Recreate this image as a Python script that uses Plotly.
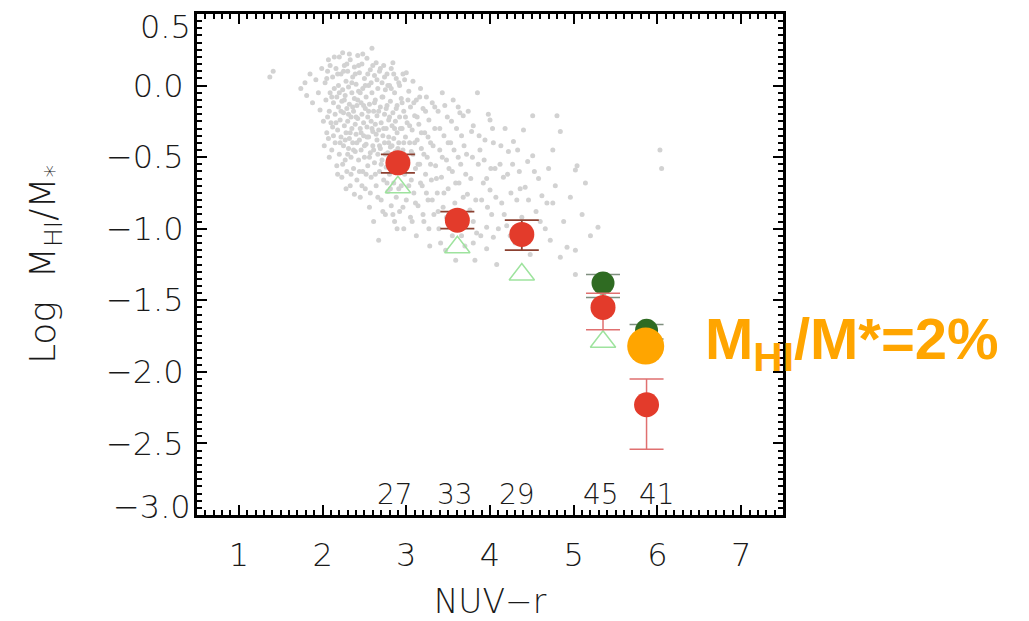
import plotly.graph_objects as go

# ---------------- data ----------------
cloud = [
    (1.37,0.06),(1.41,0.10),(1.74,-0.02),(1.79,0.02),(1.81,-0.07),(1.85,0.08),(1.88,-0.12),(1.92,0.04),
    (1.95,-0.05),(1.97,-0.17),(1.99,0.12),(2.01,-0.25),
    (2.03,0.02),(2.04,-0.10),(2.05,-0.33),(2.06,0.10),(2.07,0.18),(2.07,-0.37),(2.08,-0.18),(2.09,-0.05),
    (2.10,-0.26),(2.11,-0.45),(2.12,-0.29),(2.12,0.06),(2.13,-0.12),(2.14,-0.02),(2.15,-0.20),(2.15,-0.40),
    (2.16,0.12),(2.17,-0.56),(2.17,-0.08),(2.18,-0.31),(2.19,0.00),(2.19,-0.15),(2.20,-0.48),(2.20,0.20),
    (2.21,-0.24),(2.22,-0.36),(2.22,0.08),(2.23,-0.64),(2.23,-0.11),(2.24,0.23),(2.24,-0.03),(2.25,-0.42),
    (2.25,-0.19),(2.26,-0.28),(2.26,0.14),(2.27,-0.52),(2.27,-0.07),(2.28,-0.33),(2.28,0.03),(2.29,-0.16),
    (2.29,-0.60),(2.30,-0.25),(2.30,0.10),(2.31,-0.44),(2.31,-0.01),(2.32,-0.37),(2.32,-0.13),(2.33,0.18),
    (2.33,-0.70),(2.34,-0.22),(2.34,-0.50),(2.35,-0.05),(2.35,-0.30),(2.36,0.06),(2.36,-0.40),(2.37,-0.18),
    (2.37,-0.58),(2.38,-0.09),(2.38,0.13),(2.39,-0.27),(2.39,-0.46),(2.40,-0.34),(2.40,0.01),
    (2.41,-0.14),(2.41,-0.66),(2.42,0.21),(2.42,-0.23),(2.43,-0.52),(2.43,-0.04),(2.44,-0.38),(2.44,0.09),
    (2.45,-0.30),(2.45,-0.78),(2.46,-0.12),(2.46,-0.45),(2.47,0.15),(2.47,-0.20),(2.48,-0.60),(2.48,-0.02),
    (2.49,-0.35),(2.49,-0.26),(2.50,0.05),(2.50,-0.50),(2.51,-0.16),(2.51,-0.72),(2.52,-0.41),(2.52,-0.08),
    (2.53,0.19),(2.53,-0.29),(2.54,-0.56),(2.54,-0.22),(2.55,0.00),(2.55,-0.36),(2.56,-0.85),(2.56,-0.13),
    (2.57,-0.47),(2.57,0.11),(2.58,-0.25),(2.58,-0.64),(2.59,0.26),(2.59,-0.05),(2.60,-0.32),(2.60,-0.42),
    (2.61,-0.18),(2.61,-0.95),(2.62,0.07),(2.62,-0.54),(2.63,-0.27),(2.63,-0.10),(2.64,-0.70),(2.64,0.16),
    (2.65,-0.38),(2.65,-0.21),(2.66,-0.48),(2.66,-0.02),(2.67,-1.08),(2.67,-0.31),(2.68,-0.60),(2.68,0.10),
    (2.69,-0.15),(2.69,-0.44),(2.70,-0.80),(2.70,-0.26),(2.71,0.02),(2.71,-0.52),(2.72,-0.35),(2.72,-0.08),
    (2.73,-0.66),(2.73,0.14),(2.74,-0.20),(2.74,-0.40),(2.75,-0.90),(2.75,-0.03),(2.76,-0.30),(2.76,-0.57),
    (2.77,0.08),(2.77,-0.14),(2.78,-0.47),(2.78,-0.74),(2.79,-0.24),(2.79,-0.36),(2.80,0.00),(2.80,-0.62),
    (2.81,-0.11),(2.81,-0.43),(2.82,-0.84),(2.82,0.12),(2.83,-0.28),(2.83,-0.55),(2.84,0.16),(2.84,-0.19),
    (2.85,-0.68),(2.85,-0.37),(2.86,-0.05),(2.86,-0.95),(2.87,-0.46),(2.87,-0.25),(2.88,0.05),(2.88,-0.78),
    (2.89,-0.33),(2.89,-0.14),(2.90,-0.60),(2.91,-0.40),(2.91,0.02),(2.92,-0.22),(2.92,-0.88),(2.93,-0.50),
    (2.94,-0.09),(2.94,-0.70),(2.95,-0.30),(2.96,0.08),(2.96,-0.45),(2.97,-1.00),(2.97,-0.18),(2.98,-0.62),
    (2.99,-0.36),(3.00,0.09),(3.00,-0.80),
    (3.01,-0.26),(3.02,-0.52),(3.03,-0.04),(3.04,-0.40),(3.05,-0.92),(3.05,-0.15),(3.06,-0.66),(3.07,-0.31),
    (3.08,0.03),(3.08,-0.48),(3.09,-0.75),(3.10,-0.21),(3.11,-0.58),(3.12,-0.10),(3.12,-1.05),(3.13,-0.38),
    (3.14,-0.84),(3.15,-0.27),(3.16,-0.55),(3.17,-0.02),(3.18,-0.44),(3.19,-0.70),(3.20,-0.16),(3.21,-0.95),
    (3.22,-0.33),(3.23,-0.62),(3.24,-0.08),(3.25,-0.50),(3.26,-0.80),(3.27,-0.24),(3.28,-1.12),(3.29,-0.40),
    (3.30,-0.66),
    (3.31,-0.12),(3.33,-0.90),(3.34,-0.30),(3.35,-0.56),(3.37,-0.75),(3.38,-0.18),(3.39,-1.00),(3.40,-0.45),
    (3.42,-0.64),(3.43,-0.05),(3.44,-0.85),(3.45,-0.35),(3.47,-1.15),(3.48,-0.52),(3.49,-0.22),(3.50,-0.72),
    (3.52,-0.95),(3.53,-0.40),(3.55,-0.60),(3.56,-0.10),(3.58,-0.82),(3.59,-1.22),(3.60,-0.30),(3.62,-0.50),
    (3.63,-0.68),(3.64,-0.19),(3.66,-1.05),(3.67,-0.88),(3.68,-0.21),(3.69,-0.42),
    (3.71,-0.62),(3.73,-0.76),(3.76,-0.87),(3.78,-0.32),(3.80,-0.28),(3.80,-0.95),(3.80,-1.10),(3.82,-1.22),
    (3.84,-1.03),(3.85,-0.05),(3.86,-0.55),(3.88,-0.45),(3.90,-0.80),(3.92,-0.68),(3.94,-0.38),(3.96,-0.65),
    (3.96,-0.99),(3.96,-1.14),(3.98,-0.20),(4.00,-0.73),(4.00,-0.24),(4.02,-0.90),(4.04,-0.40),(4.04,-1.06),
    (4.06,-0.58),(4.08,-1.25),
    (4.12,-0.55),(4.14,-0.82),(4.16,-0.64),(4.18,-0.30),(4.20,-0.98),(4.22,-0.46),(4.25,-0.75),(4.28,-0.39),
    (4.30,-1.10),(4.32,-0.80),(4.35,-0.60),(4.38,-0.92),(4.40,-0.31),(4.42,-0.71),(4.45,-0.53),(4.48,-1.18),
    (4.51,-0.21),(4.51,-0.49),(4.55,-0.88),(4.58,-0.65),
    (4.62,-0.77),(4.66,-1.00),(4.70,-0.58),(4.75,-0.45),(4.75,-0.82),(4.78,-0.70),(4.80,-0.21),(4.84,-0.32),
    (4.84,-1.20),(4.88,-0.95),(4.92,-1.13),(4.96,-0.78),(5.02,-0.59),(5.02,-1.15),(5.02,-1.32),(5.04,-0.56),
    (5.10,-0.90),(5.14,-0.68),(5.20,-1.05),(5.29,-0.99),
    (6.03,-0.45),(6.05,-0.58),
    # second pass over the dense core
    (2.02,-0.42),(2.05,0.05),(2.06,-0.22),(2.08,-0.50),(2.09,0.14),(2.11,-0.08),(2.13,-0.35),(2.14,0.20),
    (2.16,-0.26),(2.18,-0.62),(2.18,0.08),(2.20,-0.05),(2.21,-0.40),(2.22,-0.18),(2.24,-0.55),(2.25,0.10),
    (2.26,-0.10),(2.27,-0.38),(2.28,-0.72),(2.29,0.15),(2.30,-0.48),(2.31,-0.20),(2.32,0.22),(2.33,-0.33),
    (2.34,-0.62),(2.35,0.02),(2.36,-0.15),(2.37,-0.45),(2.38,-0.76),(2.39,0.08),(2.40,-0.22),(2.41,-0.40),
    (2.42,-0.10),(2.43,0.14),(2.44,-0.60),(2.45,-0.05),(2.46,-0.33),(2.47,-0.70),(2.48,0.22),(2.49,-0.14),
    (2.50,-0.42),(2.51,0.00),(2.52,-0.62),(2.53,-0.36),(2.54,0.08),(2.55,-0.18),(2.56,-0.50),(2.57,-0.75),
    (2.58,0.02),(2.59,-0.30),(2.60,0.14),(2.61,-0.45),(2.62,-0.12),(2.63,-0.62),(2.64,-0.34),(2.65,0.04),
    (2.66,-0.78),(2.67,-0.18),(2.68,-0.42),(2.69,0.12),(2.70,-0.55),(2.71,-0.08),(2.72,-0.88),(2.73,-0.30),
    (2.74,0.06),(2.75,-0.48),(2.76,-0.16),(2.77,-0.68),(2.78,0.00),(2.79,-0.40),(2.80,-0.22),(2.81,-0.72),
    (2.82,-0.02),(2.83,-0.42),(2.84,-0.90),(2.85,0.08),(2.86,-0.30),(2.87,-0.60),(2.88,-0.16),(2.89,-1.00),
    (2.90,-0.44),(2.91,-0.72),(2.92,0.00),(2.93,-0.30),(2.94,-0.55),(2.95,-0.12),(2.96,-0.85),(2.97,-0.40),
    (2.98,0.04),(2.99,-0.22),(3.00,-0.58),(3.02,-0.10),(3.03,-0.70),(3.04,-0.28),(3.06,-0.46),(3.07,-0.95),
    (3.09,-0.12),(3.10,-0.40),(3.11,-0.82),(3.13,-0.22),(3.14,-0.55),(3.16,-0.08),(3.17,-0.68),(3.18,-0.33),
    (3.20,-0.90),(3.21,-0.48),(3.23,-0.18),(3.24,-0.75),(3.26,-0.36),(3.27,-1.00),(3.29,-0.55),(3.31,-0.80),
    (3.32,-0.42),(3.34,-0.15),(3.36,-0.65),(3.38,-0.88),(3.40,-0.30),(3.41,-1.10),(3.43,-0.50),(3.45,-0.75),
    (3.46,-0.14),(3.48,-0.92),(3.50,-0.40),(3.51,-0.58),(3.54,-0.25),(3.55,-1.05),(3.57,-0.45),(3.59,-0.68),
    (3.61,-0.92),(3.62,-0.15),(3.65,-0.55),(3.66,-0.35),(3.68,-0.78),(3.70,-1.12),(3.72,-0.48),(3.74,-0.18),
    (3.77,-0.65),(3.79,-0.50),(3.83,-0.80),(3.87,-0.35),(3.89,-1.05),(3.93,-0.52),(3.97,-0.85),(4.01,-0.58),
    (4.03,-0.30),(4.07,-0.78),(4.10,-1.00),(4.13,-0.42),(4.17,-0.90),(4.21,-0.62),(4.24,-1.05),(4.27,-0.55),
    (4.33,-0.45),(4.36,-0.72),(4.41,-1.00),(4.46,-0.80),(4.53,-0.60),(4.60,-0.95),(4.68,-0.82),(4.72,-1.08),
]
gray_x = [p[0] for p in cloud]
gray_y = [p[1] for p in cloud]

# open triangles (light green)
tri_x = [2.90, 3.61, 4.38, 5.35]
tri_y = [-0.71, -1.13, -1.32, -1.79]

# dark green circles
green_x = [5.35, 5.87]
green_y = [-1.38, -1.71]
green_up = [0.06, 0.04]
green_dn = [0.10, 0.06]

# red circles
red_x = [2.90, 3.61, 4.38, 5.35, 5.87]
red_y = [-0.54, -0.94, -1.04, -1.55, -2.23]
red_up = [0.06, 0.06, 0.10, 0.10, 0.18]
red_dn = [0.07, 0.06, 0.11, 0.155, 0.31]

# orange highlight
orange_x = [5.86]
orange_y = [-1.82]

# counts per bin
count_x = [2.87, 3.58, 4.32, 5.33, 6.00]
count_labels = ["27", "33", "29", "45", "41"]
count_y = -2.86

x_ticks = [1, 2, 3, 4, 5, 6, 7]
y_ticks = [0.0, -0.5, -1.0, -1.5, -2.0, -2.5, -3.0]
y_tick_text = ["0.0", "−0.5", "−1.0", "−1.5", "−2.0", "−2.5", ""]
# edge labels, drawn nudged inwards from the frame as in the original
edge_labels = ["0.5", "−3.0"]
edge_label_y = [0.41, -2.945]

FONT = "DejaVu Sans"
TXT = "#1a1a1a"

fig = go.Figure()

fig.add_trace(go.Scatter(x=gray_x, y=gray_y, mode="markers",
                         marker=dict(size=5, color="#d2d2d2"), hoverinfo="skip"))

fig.add_trace(go.Scatter(x=tri_x, y=tri_y, mode="markers",
                         marker=dict(symbol="triangle-up-open", size=22, color="#9ee39e",
                                     line=dict(width=1.5, color="#9ee39e"))))

fig.add_trace(go.Scatter(x=green_x, y=green_y, mode="markers",
                         marker=dict(size=23, color="#2f6b22"),
                         error_y=dict(type="data", symmetric=False, array=green_up, arrayminus=green_dn,
                                      color="#7f8f7f", thickness=1.5, width=17)))

dark_idx = [0, 1, 2]
light_idx = [3, 4]
fig.add_trace(go.Scatter(x=[red_x[i] for i in light_idx], y=[red_y[i] for i in light_idx], mode="markers",
                         marker=dict(size=25, color="#e33b2b"),
                         error_y=dict(type="data", symmetric=False,
                                      array=[red_up[i] for i in light_idx],
                                      arrayminus=[red_dn[i] for i in light_idx],
                                      color="#e07070", thickness=1.5, width=17)))
fig.add_trace(go.Scatter(x=[red_x[i] for i in dark_idx], y=[red_y[i] for i in dark_idx], mode="markers",
                         marker=dict(size=25, color="#e33b2b"),
                         error_y=dict(type="data", symmetric=False,
                                      array=[red_up[i] for i in dark_idx],
                                      arrayminus=[red_dn[i] for i in dark_idx],
                                      color="#8b4030", thickness=1.8, width=17)))

fig.add_trace(go.Scatter(x=orange_x, y=orange_y, mode="markers",
                         marker=dict(size=37, color="#FFA500")))

for cx, lab in zip(count_x, count_labels):
    fig.add_annotation(x=cx, y=count_y, text=lab, showarrow=False,
                       font=dict(family=FONT, size=28, color=TXT, weight=300))

for lab, ly in zip(edge_labels, edge_label_y):
    fig.add_annotation(xref="paper", x=0, xanchor="right", xshift=-4, y=ly, yanchor="middle",
                       text=lab, showarrow=False,
                       font=dict(family=FONT, size=32, color=TXT, weight=300))

fig.add_annotation(x=6.545, y=-1.80, xanchor="left", yanchor="middle",
                   text="<b>M<sub>HI</sub>/M*=2%</b>", showarrow=False,
                   font=dict(family="Liberation Sans", size=58, color="#FFA500"))

axis_common = dict(showline=True, linewidth=3, linecolor="black", mirror="ticks",
                   ticks="inside", ticklen=10, tickwidth=2, tickcolor="black",
                   showgrid=False, zeroline=False, automargin=False,
                   tickfont=dict(family=FONT, size=32, color=TXT, weight=300))

fig.update_xaxes(range=[0.5, 7.5], tickvals=x_ticks, ticklabelstandoff=10,
                 minor=dict(dtick=0.1, ticks="inside", ticklen=5, tickwidth=1.5, tickcolor="black",
                            showgrid=False),
                 title=dict(text="NUV−r", font=dict(family=FONT, size=33, color=TXT, weight=300),
                            standoff=25),
                 **axis_common)
fig.update_yaxes(range=[-3.0, 0.5], tickvals=y_ticks, ticktext=y_tick_text, ticklabelstandoff=4,
                 minor=dict(dtick=0.05, tick0=0, ticks="inside", ticklen=5, tickwidth=1.5,
                            tickcolor="black", showgrid=False),
                 title=dict(text="Log  M<sub>HI</sub>/M<sub>*</sub>",
                            font=dict(family=FONT, size=36, color=TXT, weight=300), standoff=40),
                 **axis_common)

fig.update_layout(width=1029, height=621, showlegend=False,
                  margin=dict(l=197, r=246, t=14, b=106),
                  plot_bgcolor="white", paper_bgcolor="white")

fig.write_html("out.html")
